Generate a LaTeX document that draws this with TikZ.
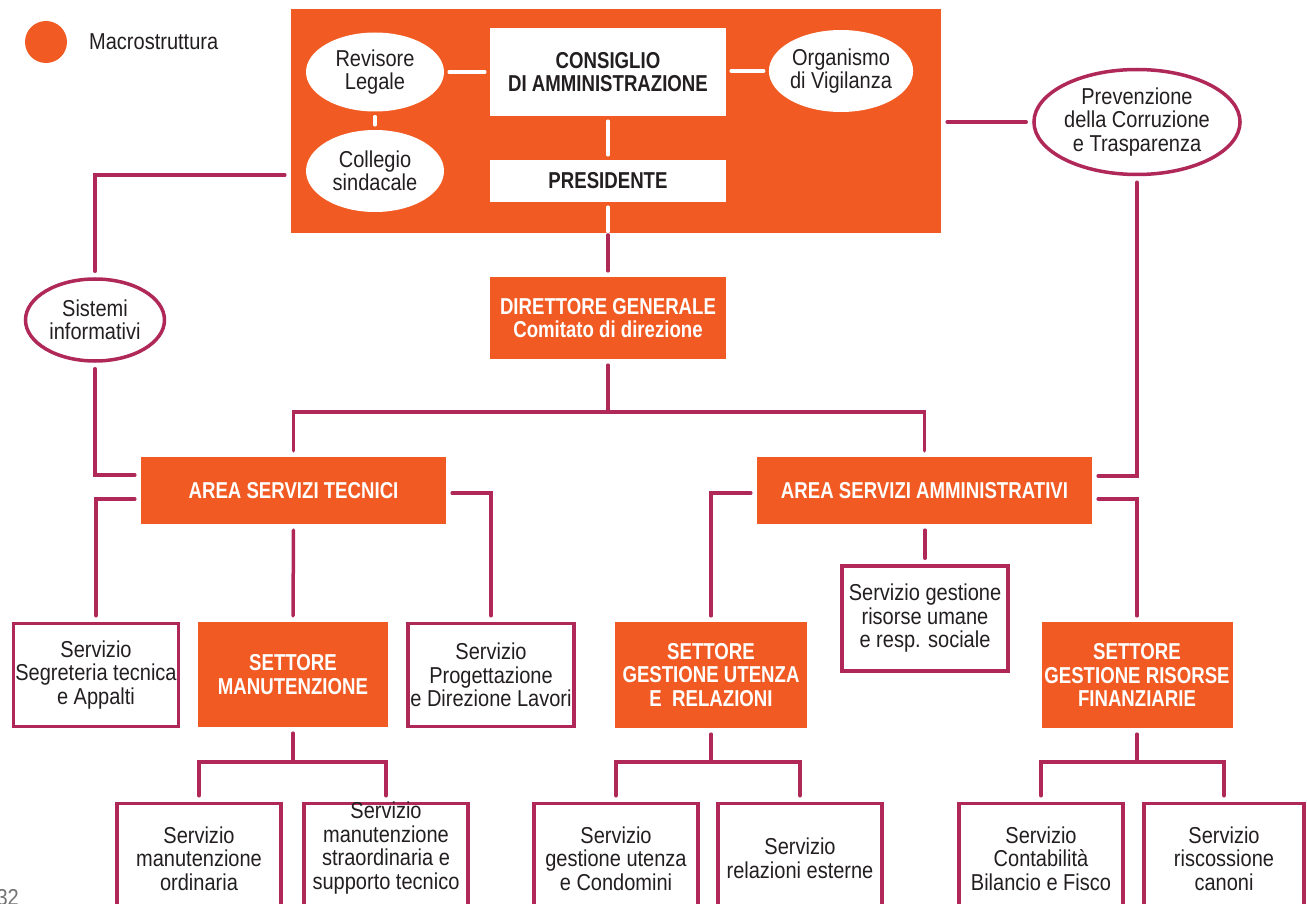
\documentclass[tikz,border=0pt]{standalone}
\usepackage{fontspec}
\setmainfont{Liberation Sans}[FakeStretch=0.87,BoldFeatures={FakeStretch=0.81}]
\usetikzlibrary{shapes.geometric}
\definecolor{org}{RGB}{241,90,34}
\definecolor{mag}{RGB}{176,40,88}
\definecolor{ink}{RGB}{35,31,32}
\begin{document}
\begin{tikzpicture}[x=1pt,y=-1pt,
  every node/.style={font=\fontsize{23}{23.5}\selectfont, align=center, inner sep=0pt, text=ink},
  obg/.style={fill=org, draw=none, minimum width=650, minimum height=224},
  obox/.style={fill=org, draw=none, text=white, font=\fontsize{23}{23.5}\selectfont\bfseries},
  wbox/.style={fill=white, draw=none, minimum width=236, minimum height=88, font=\fontsize{23}{23.5}\selectfont\bfseries},
  wel/.style={ellipse, fill=white, draw=none, minimum width=138, minimum height=80},
  mel/.style={ellipse, fill=white, draw=mag, line width=3.5pt},
  sbox/.style={rectangle, fill=white, draw=mag, line width=3.5pt},
  bbox/.style={sbox, minimum width=164, minimum height=110, anchor=north},
  ml/.style={draw=mag, line width=3.5pt, line cap=round, shorten <=6pt, shorten >=6pt},
  wl/.style={draw=white, line width=3.5pt, line cap=round, shorten <=5pt, shorten >=5pt}]
\useasboundingbox (0,0) rectangle (1307,904);
\fill[white] (0,0) rectangle (1307,904);
\clip (0,0) rectangle (1307,904);

% legend
\node[circle, fill=org, minimum size=42] (leg) at (46,42) {};
\node[anchor=west] (legt) at (89,42) {Macrostruttura};

% macrostructure block
\node[obg] (macro) at (616,121) {};
\node[wbox] (cda) at (608,72) {CONSIGLIO\\DI AMMINISTRAZIONE};
\node[wbox, minimum height=42] (pres) at (608,181) {PRESIDENTE};
\node[wel, minimum height=79] (rev) at (375,72) {Revisore\\Legale};
\node[wel, minimum height=82] (col) at (375,171) {Collegio\\sindacale};
\node[wel, minimum width=139, minimum height=82] (odv) at (841,71) {Organismo\\di Vigilanza};

\draw[wl] (rev.east) -- (cda.west |- rev.east);
\draw[wl] (cda.east |- odv.west) -- (odv.west);
\draw[wl] (rev.south) -- (col.north);
\draw[wl] (cda.south) -- (pres.north);

% side ellipses
\node[mel, minimum width=176, minimum height=105] (prev) at (1137,122) {Prevenzione\\della Corruzione\\e Trasparenza};
\node[mel, minimum width=139, minimum height=82] (sis) at (95,320) {Sistemi\\informativi};

% director
\node[obox, minimum width=236, minimum height=82] (dg) at (608,318) {DIRETTORE GENERALE\\Comitato di direzione};

% areas
\node[obox, minimum width=305, minimum height=67] (ast) at (293.5,490.5) {AREA SERVIZI TECNICI};
\node[obox, minimum width=335, minimum height=67] (asa) at (924.5,490.5) {AREA SERVIZI AMMINISTRATIVI};

% second level
\node[sbox, minimum width=165, minimum height=103] (seg) at (96,675) {Servizio\\Segreteria tecnica\\e Appalti};
\node[obox, minimum width=190, minimum height=105] (sman) at (293,674.5) {SETTORE\\MANUTENZIONE};
\node[sbox, minimum width=166, minimum height=103] (prog) at (491,675) {Servizio\\Progettazione\\e Direzione Lavori};
\node[obox, minimum width=192, minimum height=106] (sgu) at (711,675) {SETTORE\\GESTIONE UTENZA\\E\ \ RELAZIONI};
\node[sbox, minimum width=166, minimum height=105] (hr) at (925,618.5) {Servizio gestione\\risorse umane\\e resp. sociale};
\node[obox, minimum width=191, minimum height=106] (sgrf) at (1137,675) {SETTORE\\GESTIONE RISORSE\\FINANZIARIE};

% third level
\node[bbox] (b1) at (199,801.75) {Servizio\\manutenzione\\ordinaria};
\node[bbox] (b2) at (386,801.75) {};
\node (b2t) at (386,848) {Servizio\\manutenzione\\straordinaria e\\supporto tecnico};
\node[bbox] (b3) at (616,801.75) {Servizio\\gestione utenza\\e Condomini};
\node[bbox] (b4) at (800,801.75) {Servizio\\relazioni esterne};
\node[bbox] (b5) at (1041,801.75) {Servizio\\Contabilità\\Bilancio e Fisco};
\node[bbox, minimum width=160] (b6) at (1224,801.75) {Servizio\\riscossione\\canoni};

% page number fragment
\node[anchor=north east, text=black!55] (pg) at (19,889) {32};

% connectors
\draw[wl, shorten >=1.75pt] (pres.south) -- (pres.south |- macro.south);
\draw[ml, shorten <=1.75pt] (pres.south |- macro.south) -- (dg.north);

\draw[ml] (macro.west |- 0,175) -| (sis.north);
\draw[ml] (sis.south) |- (ast.west |- 0,475);
\draw[ml] (macro.east |- prev.west) -- (prev.west);
\draw[ml] (prev.south) |- (asa.east |- 0,476);

\coordinate (bus) at (608,412);
\draw[ml, shorten >=0pt] (dg.south) -- (bus);
\draw[ml] (ast.north) |- (bus) -| (asa.north);

\draw[ml] (ast.west |- 0,499) -| (seg.north);
\draw[ml] (ast.south) -- (sman.north);
\draw[ml] (ast.east |- 0,493) -| (prog.north);

\draw[ml] (asa.west |- 0,493) -| (sgu.north);
\draw[ml] (hr.north |- asa.south) -- (hr.north);
\draw[ml] (asa.east |- 0,499) -| (sgrf.north);

\coordinate (busA) at (293,762);
\draw[ml, shorten >=0pt] (sman.south) -- (busA);
\draw[ml] (b1.north) |- (busA) -| (b2.north);

\coordinate (busB) at (711,762);
\draw[ml, shorten >=0pt] (sgu.south) -- (busB);
\draw[ml] (b3.north) |- (busB) -| (b4.north);

\coordinate (busC) at (1137,762);
\draw[ml, shorten >=0pt] (sgrf.south) -- (busC);
\draw[ml] (b5.north) |- (busC) -| (b6.north);
\end{tikzpicture}
\end{document}
